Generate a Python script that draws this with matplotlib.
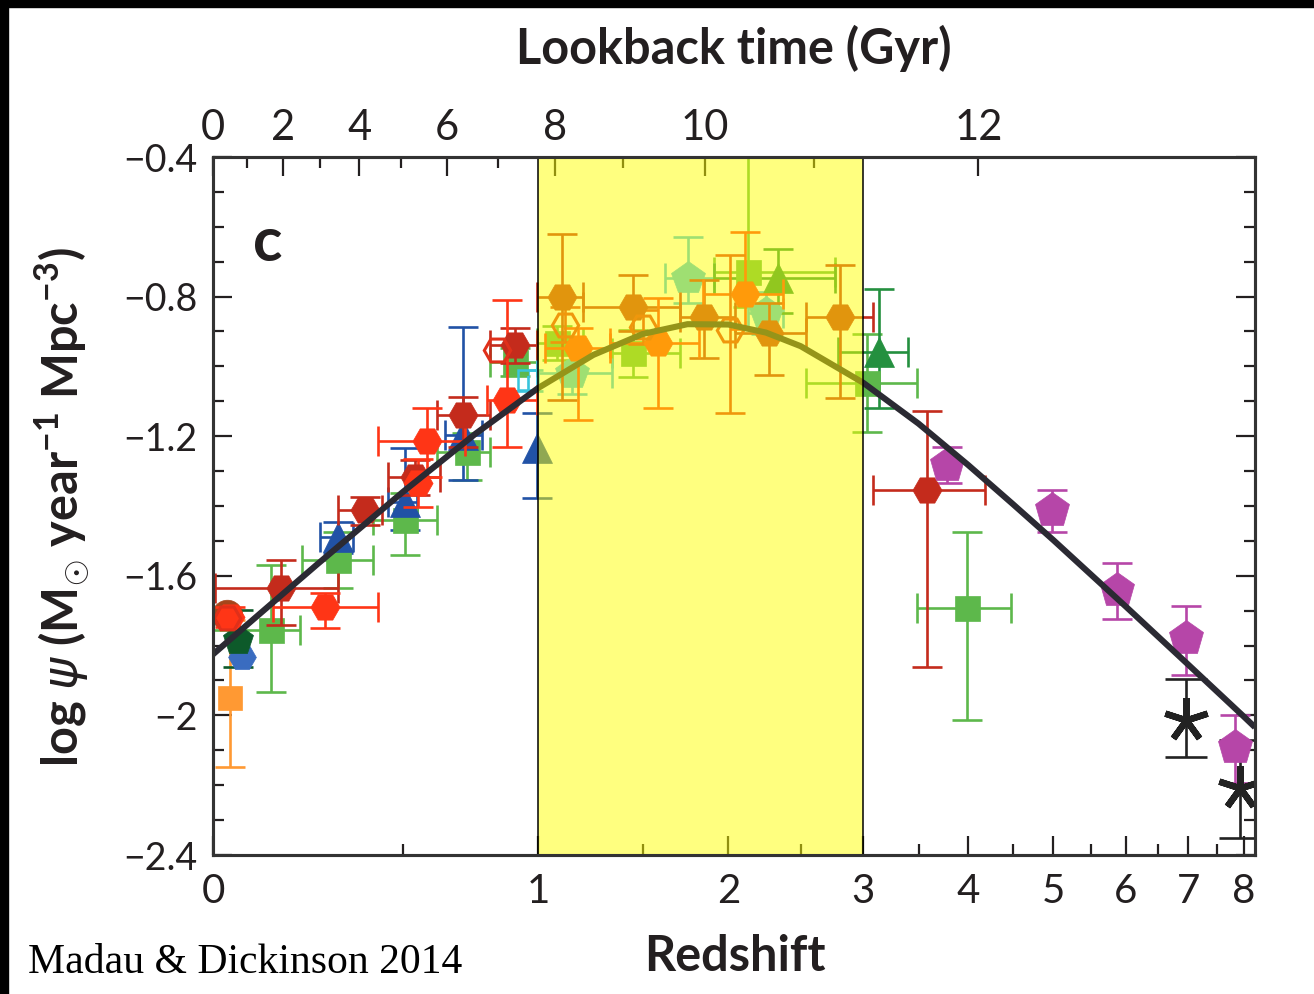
import numpy as np
import matplotlib.pyplot as plt
from matplotlib.patches import Rectangle

plt.rcParams['font.family'] = ['Lato', 'DejaVu Sans']
plt.rcParams['mathtext.fontset'] = 'custom'
plt.rcParams['mathtext.rm'] = 'Lato:bold'
plt.rcParams['mathtext.bf'] = 'Lato:bold'
plt.rcParams['mathtext.it'] = 'DejaVu Sans:italic'

INK = '#231f20'
nan = np.nan

# each survey: redshift, bin edges in z, log psi, lower / upper error
ir_dark_z = [0.155, 0.383, 0.538, 0.705, 0.905, 1.104, 1.449, 1.850, 2.274, 2.806, 3.580]
ir_dark_zmin = [0.005, 0.305, 0.452, 0.612, 0.805, 0.995, 1.200, 1.709, 2.045, 2.541, 3.080]
ir_dark_zmax = [0.305, 0.434, 0.622, 0.805, 0.995, 1.200, 1.709, 2.045, 2.541, 3.080, 4.190]
ir_dark_psi = [-1.635, -1.411, -1.317, -1.139, -0.939, -0.800, -0.830, -0.858, -0.904, -0.858, -1.354]
ir_dark_em = [0.105, 0.043, 0.051, 0.091, 0.050, 0.296, 0.070, 0.118, 0.121, 0.232, 0.507]
ir_dark_ep = [0.080, 0.037, 0.049, 0.051, 0.049, 0.179, 0.092, 0.105, 0.086, 0.149, 0.226]

ir_red_z = [0.037, 0.270, 0.548, 0.578, 0.872, 1.177, 1.582, 2.109]
ir_red_zmin = [nan, 0.137, nan, 0.421, 0.793, 1.028, 1.332, 1.844]
ir_red_zmax = [nan, 0.421, nan, 0.711, 0.995, 1.332, 1.819, 2.371]
ir_red_psi = [-1.718, -1.689, -1.334, -1.214, -1.096, -0.947, -0.933, -0.793]
ir_red_em = [0.030, 0.060, 0.070, 0.103, 0.134, 0.207, 0.186, 0.100]
ir_red_ep = [0.030, 0.040, 0.070, 0.094, 0.286, 0.057, 0.129, 0.178]

ir_open_z = [0.030, 0.833, 1.118, 1.500, 2.011]
ir_open_psi = [-1.720, -0.953, -0.881, -0.887, -0.896]
ir_open_em = [nan, nan, 0.050, 0.050, 0.238]
ir_open_ep = [nan, nan, 0.050, 0.050, 0.215]

uv_green_z = [0.132, 0.305, 0.506, 0.718, 0.905, 1.083, 1.449, 2.130, 3.030, 3.990]
uv_green_zmin = [0.000, 0.209, 0.406, 0.612, 0.805, 0.995, 1.343, 1.908, 2.541, 3.490]
uv_green_zmax = [0.204, 0.406, 0.612, 0.805, 0.995, 1.200, 1.709, 2.763, 3.490, 4.480]
uv_green_psi = [-1.755, -1.555, -1.440, -1.245, -0.987, -0.933, -0.962, -0.730, -1.048, -1.692]
uv_green_em = [0.178, 0.080, 0.100, 0.080, 0.040, 0.050, 0.068, 0.100, 0.140, 0.321]
uv_green_ep = [0.186, 0.080, 0.077, 0.055, 0.040, 0.050, 0.066, 0.400, 0.140, 0.217]

uv_blue_z = [0.305, 0.506, 0.705, 0.995]
uv_blue_zmin = [0.256, 0.452, 0.640, nan]
uv_blue_zmax = [0.347, 0.545, 0.774, nan]
uv_blue_psi = [-1.490, -1.389, -1.197, -1.234]
uv_blue_em = [0.045, 0.080, 0.128, 0.143]
uv_blue_ep = [0.045, 0.155, 0.310, 0.100]

uv_tri_z = [2.333, 3.140]
uv_tri_zmin = [1.908, 2.790]
uv_tri_zmax = [2.763, 3.400]
uv_tri_psi = [-0.747, -0.959]
uv_tri_em = [0.100, 0.160]
uv_tri_ep = [0.083, 0.180]

cyan_z = [1.150, 1.751, 2.252]
cyan_zmin = [0.995, 1.622, 2.130]
cyan_zmax = [1.343, 1.908, 2.371]
cyan_psi = [-1.019, -0.747, -0.847]
cyan_em = [0.060, 0.070, 0.060]
cyan_ep = [0.060, 0.118, 0.060]

lbg_z = [3.78, 4.98, 5.87, 6.96, 7.84]
lbg_psi = [-1.283, -1.411, -1.641, -1.778, -2.091]
lbg_em = [0.051, 0.064, 0.083, 0.106, 0.103]
lbg_ep = [0.052, 0.057, 0.078, 0.091, 0.091]

grb_z = [6.96, 7.93]
grb_psi = [-2.013, -2.208]
grb_em = [0.106, 0.142]
grb_ep = [0.117, 0.138]

# local points
orange_z, orange_psi, orange_em, orange_ep = [0.037], [-1.950], [0.198], [0.223]
dgreen_z, dgreen_psi, dgreen_em, dgreen_ep = [0.055], [-1.784], [0.076], [0.086]
bluehex_z, bluehex_psi = [0.064], [-1.833]
brown_z, brown_psi = [0.030], [-1.712]
cyansq_z, cyansq_psi = [0.958], [-1.040]

# best-fit star-formation history
curve_z = [0, 0.1, 0.25, 0.5, 0.75, 1.0, 1.25, 1.5, 1.75, 2.0, 2.25, 2.5, 3.0,
           3.5, 4.0, 4.5, 5.0, 6.0, 7.0, 8.0, 8.22]
curve_psi = [-1.825, -1.714, -1.566, -1.359, -1.193, -1.062, -0.967, -0.907, -0.879,
             -0.880, -0.903, -0.942, -1.047, -1.164, -1.282, -1.394, -1.498, -1.688,
             -1.855, -2.003, -2.034]

z_ticks = [0, 1, 2, 3, 4, 5, 6, 7, 8]
z_minor = [0.5, 1.5, 2.5, 3.5, 4.5, 5.5, 6.5, 7.5]
tl_major = [0, 2, 4, 6, 8, 10, 12]
tl_minor = [1, 3, 5, 7, 9, 11]
y_ticks = [-2.4, -2.0, -1.6, -1.2, -0.8, -0.4]
y_labels = ['\u22122.4', '\u22122', '\u22121.6', '\u22121.2', '\u22120.8', '\u22120.4']


def lookback_to_z(t_gyr, h0=70.0, om=0.3, ol=0.7):
    zg = np.linspace(0, 15, 15001)
    f = 1.0 / ((1 + zg) * np.sqrt(om * (1 + zg) ** 3 + ol))
    tl = 977.8 / h0 * np.concatenate([[0], np.cumsum(0.5 * (f[1:] + f[:-1]) * np.diff(zg))])
    return np.interp(t_gyr, tl, zg)


def fwd(z):
    return np.log10(1 + np.asarray(z))


def inv(x):
    return 10 ** np.asarray(x) - 1


def series(ax, z, psi, em, ep, color, marker, ms, zmin=None, zmax=None,
           capsize=11, filled=True, zorder=3, mew=2.0):
    z = np.asarray(z, float)
    xerr = None
    if zmin is not None:
        xerr = [z - np.asarray(zmin, float), np.asarray(zmax, float) - z]
    ax.errorbar(z, psi, yerr=[em, ep], xerr=xerr, fmt='none', ecolor=color,
                elinewidth=1.9, capsize=capsize, capthick=1.9, zorder=zorder)
    ax.plot(z, psi, linestyle='none', marker=marker, ms=ms,
            mfc=color if filled else 'none', mec=color, mew=mew if not filled else 0.5,
            zorder=zorder + 0.5)


fig = plt.figure(figsize=(13.14, 9.94), dpi=100)
ax = fig.add_axes([213 / 1314, 1 - 855 / 994, 1042 / 1314, 698 / 994])
ax.set_xscale('function', functions=(fwd, inv))
ax.set_xlim(0, 8.22)
ax.set_ylim(-2.4, -0.4)

series(ax, uv_green_z, uv_green_psi, uv_green_em, uv_green_ep, '#5db84b', 's', 18,
       uv_green_zmin, uv_green_zmax)
series(ax, cyansq_z, cyansq_psi, [0.03], [0.03], '#39c4dc', 's', 15, filled=False, mew=1.8)
series(ax, cyan_z, cyan_psi, cyan_em, cyan_ep, '#40c0e6', 'p', 25, cyan_zmin, cyan_zmax)
series(ax, uv_blue_z, uv_blue_psi, uv_blue_em, uv_blue_ep, '#2152a6', '^', 21,
       uv_blue_zmin, uv_blue_zmax)
series(ax, uv_tri_z, uv_tri_psi, uv_tri_em, uv_tri_ep, '#24903f', '^', 21,
       uv_tri_zmin, uv_tri_zmax)
series(ax, orange_z, orange_psi, orange_em, orange_ep, '#ff9933', 's', 17)
series(ax, bluehex_z, bluehex_psi, [nan], [nan], '#3a6cc0', 'H', 20)
series(ax, dgreen_z, dgreen_psi, dgreen_em, dgreen_ep, '#0d5a2a', 'p', 23)
series(ax, brown_z, brown_psi, [nan], [nan], '#a5461c', 'o', 22)
series(ax, ir_dark_z, ir_dark_psi, ir_dark_em, ir_dark_ep, '#c42b1c', 'H', 21,
       ir_dark_zmin, ir_dark_zmax, zorder=4)
series(ax, ir_red_z, ir_red_psi, ir_red_em, ir_red_ep, '#ff3516', 'H', 21,
       ir_red_zmin, ir_red_zmax, zorder=4)
series(ax, ir_open_z, ir_open_psi, ir_open_em, ir_open_ep, '#e0301a', 'H', 19,
       filled=False, zorder=4, mew=2.2)
series(ax, lbg_z, lbg_psi, lbg_em, lbg_ep, '#b646a8', 'p', 26, zorder=4)
series(ax, grb_z, grb_psi, grb_em, grb_ep, '#222222', (5, 2, 0), 32, capsize=15,
       filled=False, zorder=4, mew=4.6)

ax.plot(curve_z, curve_psi, color='#2b2a33', lw=4.4, zorder=6, solid_capstyle='butt')

ax.set_xticks(z_ticks, [str(t) for t in z_ticks])
ax.set_xticks(z_minor, minor=True)
ax.set_yticks(y_ticks, y_labels)
ax.set_yticks(np.arange(-2.3, -0.45, 0.1), minor=True)
ax.tick_params(which='both', direction='in', colors=INK, width=1.6, right=True,
               labelsize=27, labelcolor=INK)
ax.tick_params(which='major', length=14)
ax.tick_params(which='minor', length=8)
ax.tick_params(axis='x', labelsize=29, pad=13)
ax.tick_params(axis='y', pad=11)

ax.text(0.053, 0.877, 'c', transform=ax.transAxes, fontsize=44, fontweight='bold',
        color=INK, ha='center', va='center')

ax.set_xlabel('Redshift', fontsize=35, fontweight='bold', color=INK, va='center')
ax.xaxis.set_label_coords(0.501, -0.146)
ax.set_ylabel(r'log $\psi$ (M$_{\odot}$ year$^{-1}$ Mpc$^{-3}$)', fontsize=35,
              fontweight='bold', color=INK, va='center')
ax.yaxis.set_label_coords(-0.145, 0.499)

# lookback-time axis on top, also carries the shaded 1<z<3 band
top = ax.twiny()
top.set_xscale('function', functions=(fwd, inv))
top.set_xlim(ax.get_xlim())
top.set_xticks(lookback_to_z(tl_major), [str(t) for t in tl_major])
top.set_xticks(lookback_to_z(tl_minor), minor=True)
top.tick_params(which='both', direction='in', colors=INK, width=1.6, labelsize=30,
                labelcolor=INK, pad=7)
top.tick_params(which='major', length=14)
top.tick_params(which='minor', length=8)
top.set_xlabel('Lookback time (Gyr)', fontsize=35, fontweight='bold', color=INK,
               va='center')
top.xaxis.set_label_coords(0.5, 1.156)

top.axvspan(1, 3, facecolor='#ffff00', alpha=0.5, edgecolor='none', zorder=8)
for zb in (1, 3):
    top.axvline(zb, color='black', lw=1.1, zorder=9)

for a in (ax, top):
    for sp in a.spines.values():
        sp.set_color('#333333')
        sp.set_linewidth(2.2)
        sp.set_zorder(10)

fig.text(28 / 1314, 1 - 973 / 994, 'Madau & Dickinson 2014', family='Liberation Serif',
         fontsize=30, color='black', va='baseline')

# black frame strips along the left and top edges
fig.add_artist(Rectangle((0, 0), 8 / 1314, 1, transform=fig.transFigure,
                         color='black', zorder=20))
fig.add_artist(Rectangle((0, 1 - 7 / 994), 1, 7 / 994, transform=fig.transFigure,
                         color='black', zorder=20))

fig.savefig('out.png', dpi=100)
